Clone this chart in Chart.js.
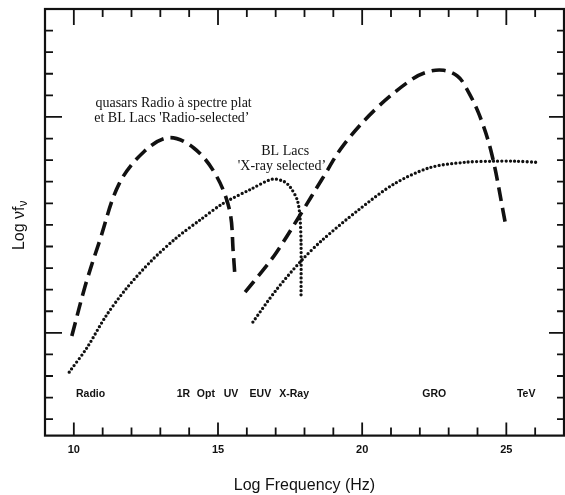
<!DOCTYPE html>
<html>
<head>
<meta charset="utf-8">
<script src="https://cdn.jsdelivr.net/npm/chart.js@4/dist/chart.umd.min.js"></script>
<style>
  html, body { margin: 0; padding: 0; background: #fff; overflow: hidden; }
  #wrap { width: 572px; height: 495px; }
</style>
</head>
<body>
<div id="wrap"><canvas id="chart" width="572" height="495"></canvas></div>
<script>
// quasars radio a spectre plat / BL Lacs radio-selected (dashed)
const radioSyncX = [9.93, 10.4, 10.89, 11.57, 12.44, 13.3, 14.16, 14.91, 15.4, 15.53, 15.59];
const radioSyncY = [-0.15, 2.2, 4.24, 6.9, 8.4, 9.04, 8.56, 7.35, 5.69, 3.71, 2.57];
const radioComptonX = [15.94, 16.5, 17.02, 17.88, 18.6, 19.36, 20.48, 21.72, 22.3, 22.83, 23.3, 23.57, 24.07, 24.5, 24.97];
const radioComptonY = [1.89, 2.8, 3.71, 5.53, 7.1, 8.71, 10.38, 11.74, 12.1, 12.16, 11.9, 11.44, 10.07, 8.25, 5.05];
// BL Lacs X-ray selected (dotted)
const xraySyncX = [9.84, 10.46, 11.1, 11.82, 12.7, 13.55, 14.4, 15.16, 16.15, 16.89, 17.3, 17.51, 17.75, 17.84, 17.88, 17.88];
const xraySyncY = [-1.82, -0.68, 0.75, 2.05, 3.35, 4.39, 5.25, 5.98, 6.66, 7.12, 7.0, 6.74, 6.15, 5.4, 4.2, 1.66];
const xrayComptonX = [16.21, 17.0, 17.88, 18.62, 19.86, 21.1, 22.34, 23.57, 24.56, 25.3, 26.05];
const xrayComptonY = [0.5, 1.95, 3.33, 4.3, 5.68, 6.89, 7.65, 7.9, 7.95, 7.95, 7.9];

const xMajor = [10, 15, 20, 25];
const yMajor = [0, 10];
const bandNames = ['Radio', '1R', 'Opt', 'UV', 'EUV', 'X-Ray', 'GRO', 'TeV'];
const bandX = [10.58, 13.8, 14.58, 15.45, 16.47, 17.64, 22.5, 25.69];
const bandY = -2.83;
const noteText = ['quasars Radio à spectre plat', "et BL Lacs 'Radio-selected’", 'BL Lacs', "'X-ray selected’"];
const noteX = [13.46, 13.4, 17.33, 17.22];
const noteY = [10.65, 9.92, 8.42, 7.7];

const pts = (xs, ys) => xs.map((x, i) => ({ x, y: ys[i] }));
const dashed = { borderColor: '#111', borderWidth: 3.6, borderDash: [14, 7], pointRadius: 0, showLine: true, tension: 0.35, fill: false };
const dotted = { borderColor: '#111', borderWidth: 3.3, borderDash: [0, 4.2], borderCapStyle: 'round', pointRadius: 0, showLine: true, tension: 0.3, fill: false };

const frame = {
  id: 'frame',
  afterDatasetsDraw(chart) {
    const { ctx, chartArea: a, scales: { x, y } } = chart;
    ctx.save();
    ctx.strokeStyle = '#111';
    ctx.lineWidth = 2.2;
    ctx.strokeRect(a.left, a.top, a.right - a.left, a.bottom - a.top);
    ctx.lineWidth = 1.8;
    ctx.beginPath();
    for (let v = Math.ceil(x.min + 0.5); v < x.max; v++) {
      const px = x.getPixelForValue(v), big = xMajor.includes(v);
      ctx.moveTo(px, a.top); ctx.lineTo(px, a.top + (big ? 16 : 8));
      ctx.moveTo(px, a.bottom); ctx.lineTo(px, a.bottom - (big ? 13 : 8));
    }
    for (let v = Math.ceil(y.min); v < y.max - 0.5; v++) {
      const py = y.getPixelForValue(v), big = yMajor.includes(v);
      ctx.moveTo(a.left, py); ctx.lineTo(a.left + (big ? 17 : 8), py);
      ctx.moveTo(a.right, py); ctx.lineTo(a.right - (big ? 15 : 7), py);
    }
    ctx.stroke();

    ctx.fillStyle = '#111';
    ctx.textAlign = 'center';
    ctx.textBaseline = 'middle';
    ctx.font = 'bold 10.5px "Liberation Sans", Arial, sans-serif';
    bandNames.forEach((t, i) => ctx.fillText(t, x.getPixelForValue(bandX[i]), y.getPixelForValue(bandY)));
    ctx.font = '14px "Liberation Serif", "Times New Roman", serif';
    noteText.forEach((t, i) => ctx.fillText(t, x.getPixelForValue(noteX[i]), y.getPixelForValue(noteY[i])));

    // y title with subscript nu
    ctx.translate(20, (a.top + a.bottom) / 2 + 3);
    ctx.rotate(-Math.PI / 2);
    ctx.textAlign = 'left';
    ctx.font = '16px "Liberation Sans", Arial, sans-serif';
    const main = 'Log νf';
    const w = ctx.measureText(main).width;
    ctx.font = '12px "Liberation Sans", Arial, sans-serif';
    const ws = ctx.measureText('ν').width;
    const x0 = -(w + ws) / 2;
    ctx.font = '16px "Liberation Sans", Arial, sans-serif';
    ctx.fillText(main, x0, 0);
    ctx.font = '12px "Liberation Sans", Arial, sans-serif';
    ctx.fillText('ν', x0 + w, 4);
    ctx.restore();
  }
};

new Chart(document.getElementById('chart').getContext('2d'), {
  type: 'scatter',
  data: {
    datasets: [
      { data: pts(radioSyncX, radioSyncY), ...dashed },
      { data: pts(radioComptonX, radioComptonY), ...dashed },
      { data: pts(xraySyncX, xraySyncY), ...dotted },
      { data: pts(xrayComptonX, xrayComptonY), ...dotted }
    ]
  },
  options: {
    responsive: false,
    animation: false,
    layout: { padding: { left: 45, right: 5, top: 9, bottom: 0 } },
    plugins: { legend: { display: false }, tooltip: { enabled: false } },
    scales: {
      x: {
        type: 'linear', min: 9, max: 27,
        grid: { display: false, drawTicks: false },
        border: { display: false },
        ticks: {
          stepSize: 1, padding: 8, color: '#111', autoSkip: false, maxRotation: 0,
          font: { family: '"Liberation Sans", Arial, sans-serif', size: 11, weight: 'bold' },
          callback: v => xMajor.includes(v) ? String(v) : ''
        },
        title: {
          display: true, text: 'Log Frequency (Hz)', color: '#111',
          font: { family: '"Liberation Sans", Arial, sans-serif', size: 16 },
          padding: { top: 11, bottom: 0 }
        }
      },
      y: { type: 'linear', min: -4.76, max: 15, display: false }
    }
  },
  plugins: [frame]
});
</script>
</body>
</html>
